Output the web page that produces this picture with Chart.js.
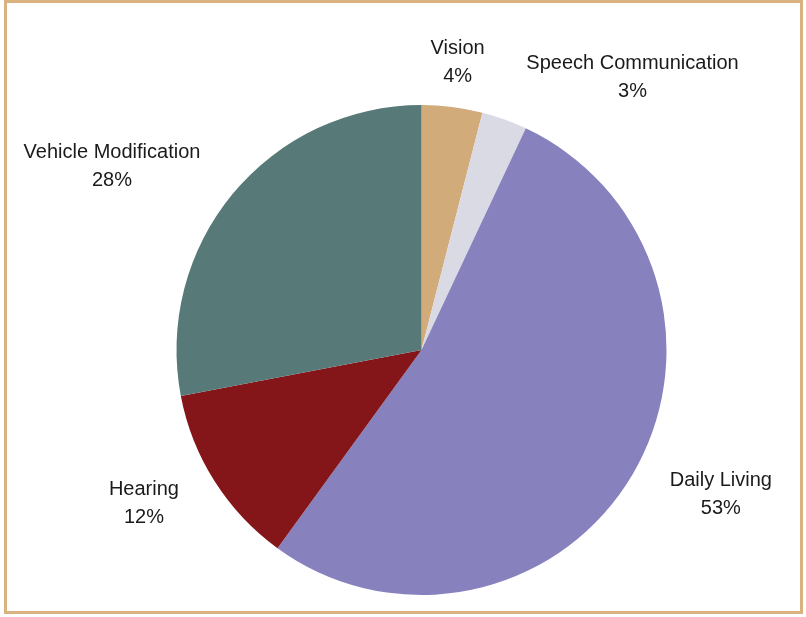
<!DOCTYPE html>
<html>
<head>
<meta charset="utf-8">
<script src="https://cdn.jsdelivr.net/npm/chart.js@4/dist/chart.umd.min.js"></script>
<style>
  html, body { margin: 0; padding: 0; background: #ffffff; }
  #wrap { position: relative; width: 806px; height: 617px; }
  #frame { position: absolute; left: 4px; top: 0; width: 799px; height: 614px;
           border: 3px solid #D8B27F; box-sizing: border-box; pointer-events: none; }
  canvas { position: absolute; left: 0; top: 0; }
</style>
</head>
<body>
<div id="wrap">
  <canvas id="c" width="806" height="617"></canvas>
  <div id="frame"></div>
</div>
<script>
const categories = ['Vision', 'Speech Communication', 'Daily Living', 'Hearing', 'Vehicle Modification'];
const shares = [4, 3, 53, 12, 28];
const sliceColors = ['#D2AB7A', '#DADAE5', '#8782BE', '#84161A', '#577977'];
// per-label nudges (px) applied after the default outside placement
const labelNudgeX = [-3, 78.5, 10, -7.4, -21.8];
const labelNudgeY = [23, 21.5, -14.4, -14.7, 16];

const FONT = '20px "Liberation Sans", Arial, sans-serif';
const LINE_H = 28;

const outsideLabels = {
  id: 'outsideLabels',
  afterDatasetsDraw(chart) {
    const ctx = chart.ctx;
    const meta = chart.getDatasetMeta(0);
    const total = shares.reduce((a, b) => a + b, 0);
    ctx.save();
    ctx.font = FONT;
    ctx.fillStyle = '#1a1a1a';
    ctx.textAlign = 'center';
    ctx.textBaseline = 'middle';
    meta.data.forEach((arc, i) => {
      const p = arc.getProps(['x', 'y', 'startAngle', 'endAngle', 'outerRadius'], true);
      const mid = (p.startAngle + p.endAngle) / 2;
      const cs = Math.cos(mid), sn = Math.sin(mid);
      const l1 = categories[i];
      const l2 = Math.round(shares[i] / total * 100) + '%';
      const w = Math.max(ctx.measureText(l1).width, ctx.measureText(l2).width);
      const h = LINE_H * 2;
      const d = p.outerRadius + 40;
      const ax = p.x + d * cs;
      const ay = p.y + d * sn;
      const bx = ax + cs * w / 2 + labelNudgeX[i];
      const by = ay + sn * h / 2 + labelNudgeY[i];
      ctx.fillText(l1, bx, by - LINE_H / 2);
      ctx.fillText(l2, bx, by + LINE_H / 2);
    });
    ctx.restore();
  }
};

new Chart(document.getElementById('c'), {
  type: 'pie',
  data: {
    labels: categories,
    datasets: [{
      data: shares,
      backgroundColor: sliceColors,
      borderWidth: 0
    }]
  },
  options: {
    responsive: false,
    devicePixelRatio: 1,
    animation: false,
    layout: { padding: { left: 176.5, right: 139.5, top: 105, bottom: 22 } },
    plugins: {
      legend: { display: false },
      tooltip: { enabled: false }
    }
  },
  plugins: [outsideLabels]
});
</script>
</body>
</html>
